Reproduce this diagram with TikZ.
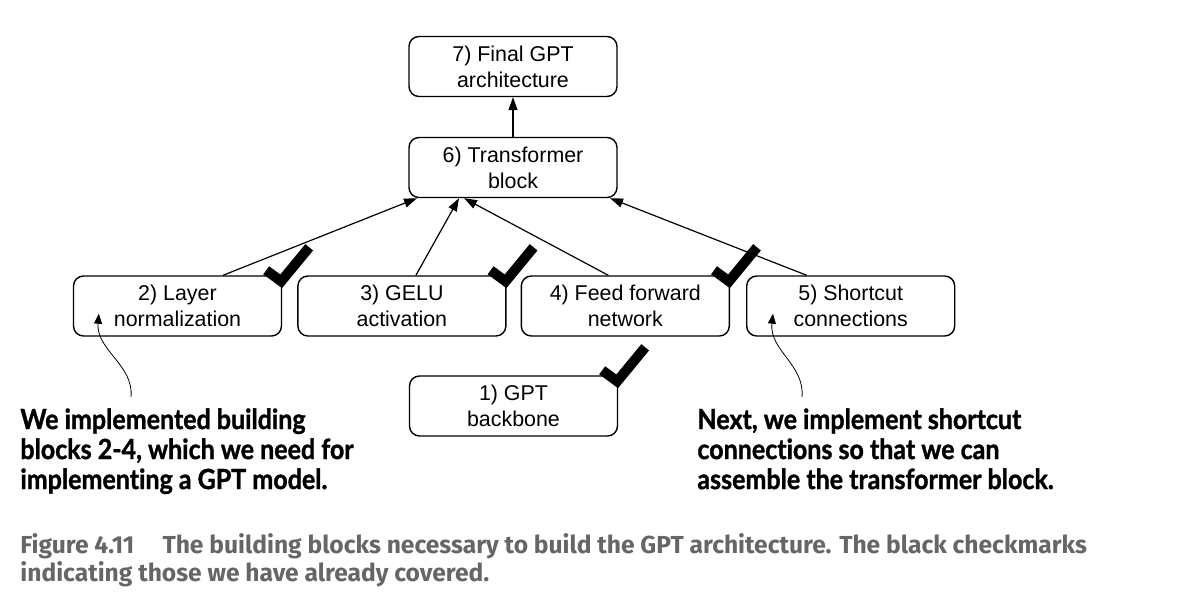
\documentclass[tikz,border=0pt]{standalone}
\usepackage{fontspec}
\setmainfont{Liberation Sans}
\newfontfamily\notefont{Lato}[FakeStretch=0.9, Ligatures=NoCommon, BoldFeatures={FakeBold=1.2}]
\newfontfamily\capfont{Fira Sans}
\usetikzlibrary{positioning, arrows.meta}
\definecolor{capgray}{HTML}{666666}

\begin{document}
\begin{tikzpicture}[x=0.5pt, y=-0.5pt,
    block/.style={draw, rounded corners=5pt, line width=0.7pt, minimum width=104pt, minimum height=30pt,
        align=center, inner sep=0pt, font=\fontsize{10.7}{13}\selectfont},
    link/.style={-{Triangle[length=6.5pt,width=4.5pt]}, line width=0.6pt},
    hint/.style={-{Triangle[length=5pt,width=4pt]}, line width=0.4pt},
    note/.style={align=left, inner sep=0pt, font=\notefont\bfseries\fontsize{13.9}{15}\selectfont},
    donemark/.pic={\draw[line width=5pt] (-16,-5) -- (-1,6) -- (27,-28);}]
        \useasboundingbox (0,0) rectangle (1190,612);

        \node[block] (final) at (513,66.5) {7) Final GPT\\architecture};
        \node[block] (trf) at (513,167.5) {6) Transformer\\block};

        \node[block] (ln) at (177.5,306) {2) Layer\\normalization};
        \node[block, right=7.5pt of ln] (gelu) {3) GELU\\activation};
        \node[block, right=7pt of gelu] (ffn) {4) Feed forward\\network};
        \node[block, right=8pt of ffn] (short) {5) Shortcut\\connections};

        \node[block] (gpt) at (513.5,406) {1) GPT\\backbone};

        \draw[link] (trf) -- (final);
        \draw[link] ([xshift=22.75pt]ln.north) -- ([xshift=-48pt]trf.south);
        \draw[link] ([xshift=7pt]gelu.north) -- ([xshift=-27pt]trf.south);
        \draw[link] ([xshift=-8.5pt]ffn.north) -- ([xshift=-24.5pt]trf.south);
        \draw[link] ([xshift=-22pt]short.north) -- ([xshift=48.5pt]trf.south);

        % checkmarks for the blocks already covered
        \pic at (ln.north east) {donemark};
        \pic at (gelu.north east) {donemark};
        \pic at (ffn.north east) {donemark};
        \pic at (gpt.north east) {donemark};

        \node[note, anchor=north west] (lntext) at (20,408) {We implemented building\\blocks 2-4, which we need for\\implementing a GPT model.};
        \node[note, anchor=north west] (sctext) at (697,408) {Next, we implement shortcut\\connections so that we can\\assemble the transformer block.};

        \coordinate (lnnote) at (131,397);
        \coordinate (scnote) at (802,397);
        \draw[hint] (lnnote) .. controls (134,365) and (96,350) .. ([shift={(26,-23)}]ln.south west);
        \draw[hint] (scnote) .. controls (805,365) and (769,350) .. ([shift={(27,-23)}]short.south west);

        \node[anchor=north west, align=left, inner sep=0pt, text=capgray,
            font=\capfont\bfseries\fontsize{12.3}{14.3}\selectfont] (caption) at (20,533)
            {Figure 4.11\hspace{1.15em}The building blocks necessary to build the GPT architecture. The black checkmarks\\indicating those we have already covered.};
    \end{tikzpicture}
\end{document}
